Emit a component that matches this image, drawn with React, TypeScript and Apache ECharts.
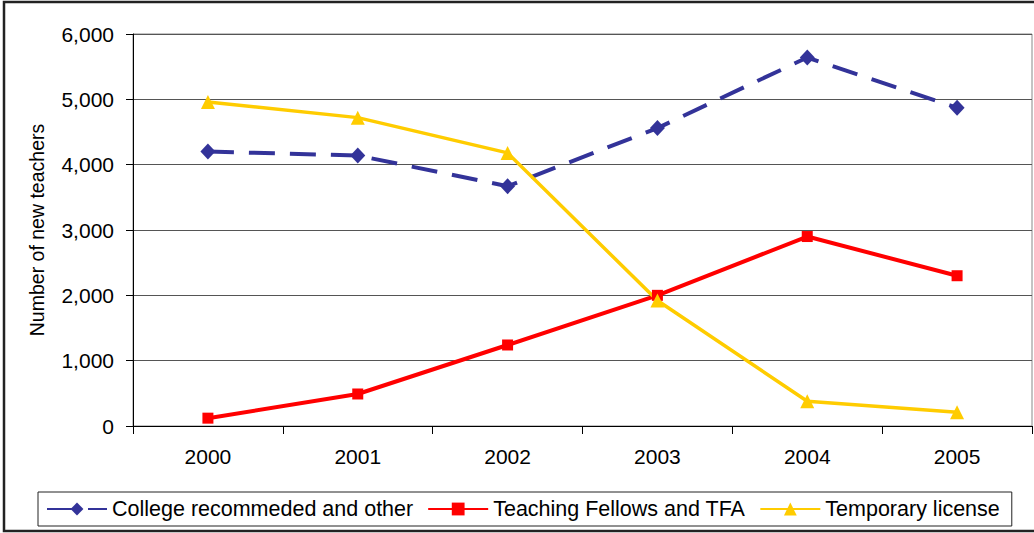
import React, { useEffect, useRef } from "react";
import * as echarts from "echarts";

const years = ["2000", "2001", "2002", "2003", "2004", "2005"];
const collegeRecommended = [4200, 4140, 3670, 4560, 5640, 4870];
const teachingFellows = [120, 490, 1240, 2000, 2900, 2300];
const temporaryLicense = [4960, 4720, 4180, 1920, 380, 210];
const yTicks = { min: 0, max: 6000, interval: 1000 };

const FONT = "'Liberation Sans', Arial, sans-serif";

export default function App() {
  const ref = useRef<HTMLDivElement>(null);
  useEffect(() => {
    if (!ref.current) return;
    const chart = echarts.init(ref.current, null, { renderer: "svg" });
    chart.setOption({
      animation: false,
      backgroundColor: "#ffffff",
      textStyle: { fontFamily: FONT },
      graphic: [
        {
          type: "rect",
          shape: { x: 4, y: 2, width: 1040, height: 529 },
          style: { fill: "none", stroke: "#222", lineWidth: 2.5 },
          silent: true,
        },
      ],
      grid: {
        left: 133,
        top: 34,
        right: 2,
        bottom: 107,
        show: true,
        borderColor: "#888",
        borderWidth: 1,
        containLabel: false,
      },
      legend: {
        left: 38,
        top: 492,
        orient: "horizontal",
        itemWidth: 60,
        itemHeight: 16,
        itemGap: 14,
        padding: [6, 12, 6, 8],
        borderColor: "#222",
        borderWidth: 1,
        borderRadius: 0,
        textStyle: { fontSize: 21.5, color: "#000", fontFamily: FONT },
        data: [
          "College recommeded and other",
          "Teaching Fellows and TFA",
          "Temporary license",
        ],
      },
      xAxis: {
        type: "category",
        data: years,
        boundaryGap: true,
        axisLine: { lineStyle: { color: "#000", width: 1 } },
        axisTick: { show: true, length: 8, lineStyle: { color: "#000" } },
        axisLabel: { fontSize: 21, color: "#000", margin: 20, fontFamily: FONT },
        splitLine: { show: false },
      },
      yAxis: {
        type: "value",
        min: yTicks.min,
        max: yTicks.max,
        interval: yTicks.interval,
        name: "Number of new teachers",
        nameLocation: "middle",
        nameGap: 86,
        nameTextStyle: { fontSize: 19.5, color: "#000", fontFamily: FONT },
        axisLine: { show: true, lineStyle: { color: "#000", width: 1 } },
        axisTick: { show: true, length: 7, lineStyle: { color: "#000" } },
        axisLabel: {
          fontSize: 21,
          color: "#000",
          margin: 19,
          fontFamily: FONT,
          formatter: (v: number) => v.toLocaleString("en-US"),
        },
        splitLine: { show: true, lineStyle: { color: "#555", width: 1 } },
      },
      series: [
        {
          name: "College recommeded and other",
          type: "line",
          data: collegeRecommended,
          color: "#333399",
          symbol: "diamond",
          symbolSize: [15, 16],
          lineStyle: { width: 4, color: "#333399", type: [26, 15] },
          itemStyle: { color: "#333399" },
        },
        {
          name: "Teaching Fellows and TFA",
          type: "line",
          data: teachingFellows,
          color: "#FF0000",
          symbol: "rect",
          symbolSize: 11,
          lineStyle: { width: 4, color: "#FF0000" },
          itemStyle: { color: "#FF0000" },
        },
        {
          name: "Temporary license",
          type: "line",
          data: temporaryLicense,
          color: "#FFCC00",
          symbol: "triangle",
          symbolSize: 14,
          lineStyle: { width: 3.5, color: "#FFCC00" },
          itemStyle: { color: "#FFCC00" },
        },
      ],
    });
    return () => chart.dispose();
  }, []);
  return (
    <div
      ref={ref}
      style={{ position: "fixed", left: 0, top: 0, width: 1034, height: 533 }}
    />
  );
}
